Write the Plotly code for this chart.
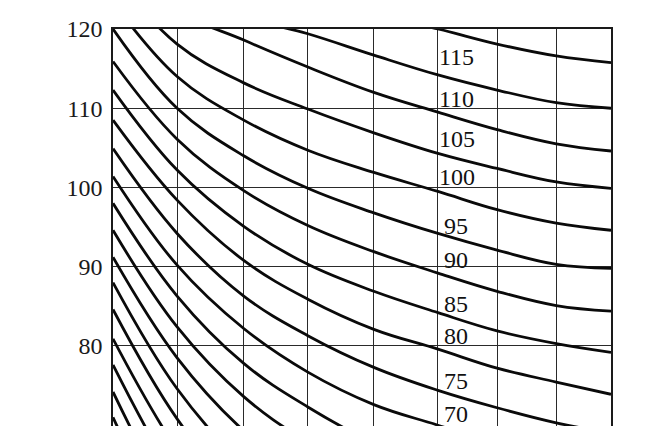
import plotly.graph_objects as go

# Octave bands (Hz) and their positions along the (scanned) x axis
bands = ["31.5", "63", "125", "250", "500", "1000", "2000", "4000", "8000"]
band_pos = [0, 1.03, 2.10, 3.13, 4.19, 5.22, 6.17, 7.12, 8.0]

# Curve levels (dB), one list per curve, values at each band
nr120 = [137.0, 129.8, 126.0, 123.6, 121.8, 120.0, 118.1, 116.6, 115.75]
nr115 = [133.6, 125.9, 121.6, 119.4, 116.7, 114.2, 112.3, 110.7, 110.0]
nr110 = [130.2, 122.4, 118.6, 115.2, 112.0, 109.5, 107.3, 105.5, 104.6]
nr105 = [126.8, 118.1, 113.2, 109.9, 106.9, 104.3, 102.4, 100.7, 99.9]
nr100 = [123.4, 114.0, 108.5, 104.7, 101.9, 99.5, 97.2, 95.5, 94.6]
nr95 = [120.0, 110.0, 104.0, 99.9, 96.8, 94.2, 92.1, 90.3, 89.8]
nr90 = [115.9, 106.1, 99.6, 95.2, 91.9, 89.2, 86.9, 85.1, 84.4]
nr85 = [112.3, 102.2, 95.1, 90.3, 86.9, 84.2, 81.9, 80.3, 79.2]
nr80 = [108.5, 98.4, 90.8, 85.9, 82.1, 79.6, 77.2, 75.45, 73.9]
nr75 = [104.9, 94.2, 86.3, 81.3, 77.3, 74.4, 72.2, 70.3, 69.0]
nr70 = [101.4, 90.2, 82.2, 76.7, 72.6, 70.0, 67.6, 65.7, 64.2]
nr65 = [98.0, 86.3, 77.8, 72.3, 67.8, 65.0, 62.4, 60.4, 58.9]
nr60 = [94.6, 82.4, 73.6, 67.8, 63.0, 60.0, 57.3, 55.3, 53.8]
nr55 = [91.2, 78.5, 69.3, 63.2, 58.3, 55.0, 52.3, 50.3, 48.7]
nr50 = [88.0, 74.6, 65.0, 58.6, 53.5, 50.0, 47.3, 45.2, 43.5]
nr45 = [84.6, 70.8, 60.7, 54.0, 48.6, 45.0, 42.2, 40.0, 38.3]
nr40 = [80.9, 66.9, 56.4, 49.3, 43.8, 40.0, 37.1, 34.9, 33.2]
nr35 = [77.6, 63.0, 52.1, 44.7, 38.9, 35.0, 32.0, 29.8, 28.1]
nr30 = [74.2, 59.0, 47.8, 40.0, 34.0, 30.0, 27.0, 24.7, 22.9]
nr25 = [71.0, 55.1, 43.5, 35.3, 29.2, 25.0, 21.9, 19.5, 17.8]
nr20 = [67.5, 51.2, 39.2, 30.7, 24.3, 20.0, 16.8, 14.4, 12.6]

curves = [nr120, nr115, nr110, nr105, nr100, nr95, nr90, nr85, nr80, nr75,
          nr70, nr65, nr60, nr55, nr50, nr45, nr40, nr35, nr30, nr25, nr20]

# Curve labels shown in the chart and the level at which each label sits
label_text = ["115", "110", "105", "100", "95", "90", "85", "80", "75", "70"]
label_y = [116.5, 111.2, 106.1, 101.3, 95.2, 90.9, 85.3, 81.2, 75.6, 71.45]

y_ticks = [70, 80, 90, 100, 110, 120]

fig = go.Figure()
for c in curves:
    fig.add_trace(go.Scatter(
        x=band_pos, y=c, mode="lines",
        line=dict(color="#0a0a0a", width=2.8, shape="spline", smoothing=1.1),
        hoverinfo="skip", showlegend=False))

for t, yv in zip(label_text, label_y):
    fig.add_annotation(
        x=band_pos[5], y=yv, text=t, showarrow=False,
        xanchor="left", yanchor="middle",
        xshift=(-1 if len(t) == 3 else 4),
        font=dict(family="Liberation Serif", size=24, color="#111"))

# the page body adds an 8px offset, so margins are shifted to compensate
fig.update_layout(
    width=649, height=426,
    margin=dict(l=105, r=46, t=21, b=8),
    paper_bgcolor="white", plot_bgcolor="white",
    xaxis=dict(range=[0, 8], tickvals=band_pos, ticktext=bands,
               showticklabels=False, showgrid=True, gridcolor="#2a2a2a",
               gridwidth=1.3, zeroline=False, showline=True, mirror=True,
               linecolor="#1a1a1a", linewidth=1.6, ticks=""),
    yaxis=dict(range=[69.9, 120], tickvals=y_ticks, showgrid=True,
               gridcolor="#2a2a2a", gridwidth=1.3, zeroline=False,
               showline=True, mirror=True, linecolor="#1a1a1a", linewidth=1.6,
               ticks="", ticklabelstandoff=4,
               tickfont=dict(family="Liberation Serif", size=24, color="#1a1a1a")),
)

fig.write_html("out.html")
